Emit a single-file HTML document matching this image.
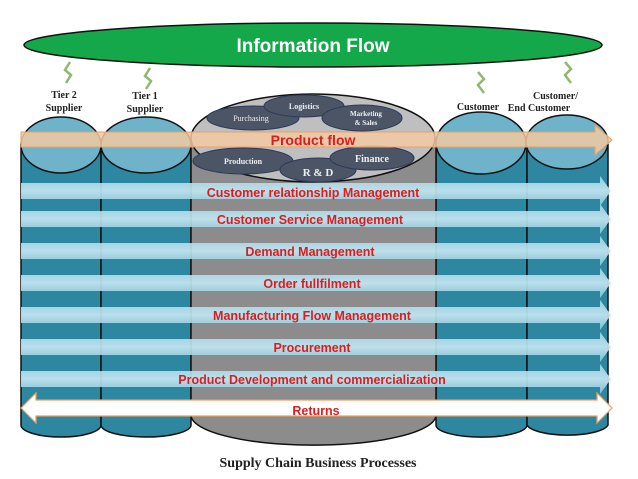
<!DOCTYPE html>
<html><head><meta charset="utf-8"><style>body{margin:0;background:#fff}svg{display:block}</style></head><body>
<svg width="638" height="479" viewBox="0 0 638 479" xmlns="http://www.w3.org/2000/svg">
<defs>
<linearGradient id="bl" x1="0" y1="0" x2="0" y2="1"><stop offset="0" stop-color="#9fd2e4"/><stop offset="0.5" stop-color="#c4e6f1"/><stop offset="1" stop-color="#86c4da"/></linearGradient>
</defs>
<ellipse cx="313" cy="45" rx="289" ry="22" fill="#14a84a" stroke="#111" stroke-width="1.5"/>
<text x="313" y="52" font-family="Liberation Sans, sans-serif" font-weight="bold" font-size="19" fill="#fff" text-anchor="middle">Information Flow</text>
<g stroke="#111" stroke-width="1.5">
<path d="M21 145 V425 A40 12 0 0 0 101 425 V145 Z" fill="#2e87a0"/>
<path d="M101 145 V425 A45 12 0 0 0 191 425 V145 Z" fill="#2e87a0"/>
<path d="M436 145 V425 A45 12 0 0 0 527 425 V145 Z" fill="#2e87a0"/>
<path d="M527 145 V425 A41 12 0 0 0 608 425 V145 Z" fill="#2e87a0"/>
<path d="M191 138 V415 A122 30 0 0 0 436 415 V138 Z" fill="#8c8c8c"/>
<ellipse cx="61" cy="145" rx="40" ry="28" fill="#6fb3cb"/>
<ellipse cx="146" cy="145" rx="45" ry="28" fill="#6fb3cb"/>
<ellipse cx="481" cy="143" rx="45" ry="31" fill="#6fb3cb"/>
<ellipse cx="567" cy="142" rx="41" ry="27" fill="#6fb3cb"/>
<ellipse cx="313" cy="138" rx="122" ry="44" fill="#bfbfbf"/>
</g>
<g fill="#4c5566" stroke="#2a3a5a" stroke-width="1">
<ellipse cx="253" cy="118" rx="46" ry="12"/>
<ellipse cx="304" cy="106" rx="40" ry="11"/>
<ellipse cx="362" cy="118" rx="40" ry="13"/>
<ellipse cx="243" cy="161" rx="50" ry="13"/>
<ellipse cx="318" cy="170" rx="38" ry="12"/>
<ellipse cx="372" cy="158" rx="42" ry="12"/>
</g>
<g font-family="Liberation Serif, serif" font-weight="bold" fill="#eee" text-anchor="middle">
<text x="251" y="121" font-size="8" font-weight="normal">Purchasing</text>
<text x="304" y="109" font-size="8">Logistics</text>
<text x="366" y="116" font-size="7">Marketing</text>
<text x="366" y="125" font-size="7">&amp; Sales</text>
<text x="243" y="164" font-size="8">Production</text>
<text x="318" y="176" font-size="11">R &amp; D</text>
<text x="372" y="162" font-size="10">Finance</text>
</g>
<g font-family="Liberation Serif, serif" font-weight="bold" fill="#222" text-anchor="middle" font-size="10">
<text x="64" y="98">Tier 2</text><text x="64" y="111">Supplier</text>
<text x="145" y="99">Tier 1</text><text x="145" y="112">Supplier</text>
<text x="478" y="110">Customer</text>
<text x="533" y="99" text-anchor="start">Customer/</text><text x="539" y="111" text-anchor="middle">End Customer</text>
</g>
<g fill="none" stroke="#8fb870" stroke-width="2.5">
<path d="M70 62 l-5 8 l6 5 l-5 8"/><path d="M150 68 l-5 8 l6 5 l-5 8"/>
<path d="M478 72 l6 7 l-6 6 l6 8"/><path d="M565 62 l6 7 l-6 6 l6 8"/>
</g>
<path d="M21 132 H595 V125 L612 140 L595 155 V147 H21 Z" fill="#f2c9a3" fill-opacity="0.85" stroke="#e8a060" stroke-width="1"/>
<text x="313" y="145" font-family="Liberation Sans, sans-serif" font-weight="bold" font-size="14" fill="#d81e1e" text-anchor="middle">Product flow</text>
<g fill="url(#bl)" fill-opacity="0.92">
<path d="M21 183 H600 V176 L611 191 L600 206 V199 H21 Z"/>
<path d="M21 211 H600 V204 L611 219 L600 234 V227 H21 Z"/>
<path d="M21 243 H600 V236 L611 251 L600 266 V259 H21 Z"/>
<path d="M21 275 H600 V268 L611 283 L600 298 V291 H21 Z"/>
<path d="M21 307 H600 V300 L611 315 L600 330 V323 H21 Z"/>
<path d="M21 339 H600 V332 L611 347 L600 362 V355 H21 Z"/>
<path d="M21 371 H600 V364 L611 379 L600 394 V387 H21 Z"/>
</g>
<g font-family="Liberation Sans, sans-serif" font-weight="bold" font-size="12.5" fill="#d81e1e" text-anchor="middle">
<text x="313" y="197">Customer relationship Management</text>
<text x="310" y="224">Customer Service  Management</text>
<text x="310" y="256">Demand Management</text>
<text x="312" y="288">Order fullfilment</text>
<text x="312" y="320">Manufacturing Flow Management</text>
<text x="312" y="352">Procurement</text>
<text x="312" y="384">Product Development and commercialization</text>
</g>
<path d="M21 408 L36 393 V400 H597 V393 L612 408 L597 423 V416 H36 V423 Z" fill="#fff" stroke="#e8a060" stroke-width="1.2"/>
<text x="316" y="415" font-family="Liberation Sans, sans-serif" font-weight="bold" font-size="12.5" fill="#d81e1e" text-anchor="middle">Returns</text>
<text x="318" y="467" font-family="Liberation Serif, serif" font-weight="bold" font-size="14" fill="#222" text-anchor="middle">Supply Chain Business Processes</text>
</svg>
</body></html>
